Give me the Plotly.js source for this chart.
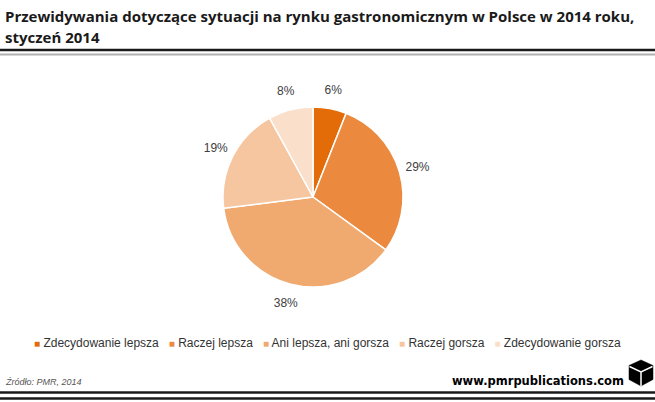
<!DOCTYPE html>
<html>
<head>
<meta charset="utf-8">
<script src="https://cdn.plot.ly/plotly-3.0.1.min.js"></script>
<style>html,body{margin:0;padding:0;background:#fff;}#chart{width:655px;height:402px;}</style>
</head>
<body>
<div id="chart"></div>
<script>
const labels = ["Zdecydowanie lepsza", "Raczej lepsza", "Ani lepsza, ani gorsza", "Raczej gorsza", "Zdecydowanie gorsza"];
const values = [6, 29, 38, 19, 8];
const colors = ["#E36C09", "#EB8A3F", "#F0A96F", "#F5C6A0", "#FADFCB"];
const titleLines = ["Przewidywania dotyczące sytuacji na rynku gastronomicznym w Polsce w 2014 roku,", "styczeń 2014"];
const sourceText = "Źródło: PMR, 2014";
const siteText = "www.pmrpublications.com";

const W = 655, H = 402;
const px = x => x / W;
const py = y => 1 - y / H;

const cx = 313, cy = 197, R = 90, Rin = 93, Rout = 125;

const pie = {
  type: "pie",
  labels: labels,
  values: values,
  sort: false,
  direction: "clockwise",
  rotation: 0,
  marker: {colors: colors, line: {color: "#ffffff", width: 1.5}},
  textinfo: "none",
  hoverinfo: "label+percent",
  showlegend: false,
  domain: {x: [px(cx - R), px(cx + R)], y: [py(cy + R), py(cy - R)]}
};

const labelRing = {
  type: "pie",
  labels: labels,
  values: values,
  sort: false,
  direction: "clockwise",
  rotation: 0,
  hole: Rin / Rout,
  marker: {colors: labels.map(() => "rgba(0,0,0,0)"), line: {width: 0}},
  texttemplate: "%{value}%",
  textposition: "inside",
  insidetextorientation: "horizontal",
  textfont: {family: "Liberation Sans, Arial, sans-serif", size: 12, color: "#404040"},
  hoverinfo: "skip",
  showlegend: false,
  domain: {x: [px(cx - Rout), px(cx + Rout)], y: [py(cy + Rout), py(cy - Rout)]}
};

const legendText = labels.map((l, i) =>
  '<span style="color:' + colors[i] + ';font-size:10px">■</span> ' + l
).join('&nbsp;&nbsp;&nbsp;');

const annotations = [
  {text: "<b>" + titleLines[0] + "</b>", x: px(3), y: py(4), xref: "paper", yref: "paper", xanchor: "left", yanchor: "top", showarrow: false,
   font: {family: "Open Sans, sans-serif", size: 15, color: "#1a1a1a"}},
  {text: "<b>" + titleLines[1] + "</b>", x: px(3), y: py(25), xref: "paper", yref: "paper", xanchor: "left", yanchor: "top", showarrow: false,
   font: {family: "Open Sans, sans-serif", size: 15, color: "#1a1a1a"}},
  {text: legendText, x: px(32), y: py(343), xref: "paper", yref: "paper", xanchor: "left", yanchor: "middle", showarrow: false,
   font: {family: "Liberation Sans, Arial, sans-serif", size: 12, color: "#333333"}},
  {text: "<i>" + sourceText + "</i>", x: px(3), y: py(382), xref: "paper", yref: "paper", xanchor: "left", yanchor: "middle", showarrow: false,
   font: {family: "Liberation Sans, Arial, sans-serif", size: 9, color: "#555555"}},
  {text: "<b>" + siteText + "</b>", x: px(626), y: py(381), xref: "paper", yref: "paper", xanchor: "right", yanchor: "middle", showarrow: false,
   font: {family: "DejaVu Sans, sans-serif", size: 11.5, color: "#000000"}}
];

const shapes = [
  {type: "line", xref: "paper", yref: "paper", x0: 0, x1: 1, y0: py(50), y1: py(50), line: {color: "#1a1a1a", width: 2.5}},
  {type: "line", xref: "paper", yref: "paper", x0: 0, x1: 1, y0: py(54.5), y1: py(54.5), line: {color: "#b0b0b0", width: 2}},
  {type: "line", xref: "paper", yref: "paper", x0: 0, x1: 1, y0: py(392.5), y1: py(392.5), line: {color: "#1a1a1a", width: 2.5}},
  {type: "line", xref: "paper", yref: "paper", x0: 0, x1: 1, y0: py(398.5), y1: py(398.5), line: {color: "#1a1a1a", width: 2.5}},
  {type: "path", xref: "paper", yref: "paper",
   path: "M" + px(641) + "," + py(360) + " L" + px(653) + "," + py(365.5) + " L" + px(653) + "," + py(379.5) + " L" + px(641) + "," + py(386) +
         " L" + px(629) + "," + py(379.5) + " L" + px(629) + "," + py(365.5) + " Z",
   fillcolor: "#000000", line: {color: "#000000", width: 0.5}},
  {type: "path", xref: "paper", yref: "paper",
   path: "M" + px(629.5) + "," + py(366.5) + " L" + px(641) + "," + py(372) + " L" + px(652.5) + "," + py(366.5) +
         " M" + px(641) + "," + py(372) + " L" + px(641) + "," + py(386),
   line: {color: "#ffffff", width: 1.5}}
];

const layout = {
  width: W, height: H,
  margin: {l: 0, r: 0, t: 0, b: 0},
  paper_bgcolor: "#ffffff",
  plot_bgcolor: "#ffffff",
  showlegend: false,
  annotations: annotations,
  shapes: shapes
};

Plotly.newPlot("chart", [pie, labelRing], layout, {displayModeBar: false, staticPlot: true});
</script>
</body>
</html>
